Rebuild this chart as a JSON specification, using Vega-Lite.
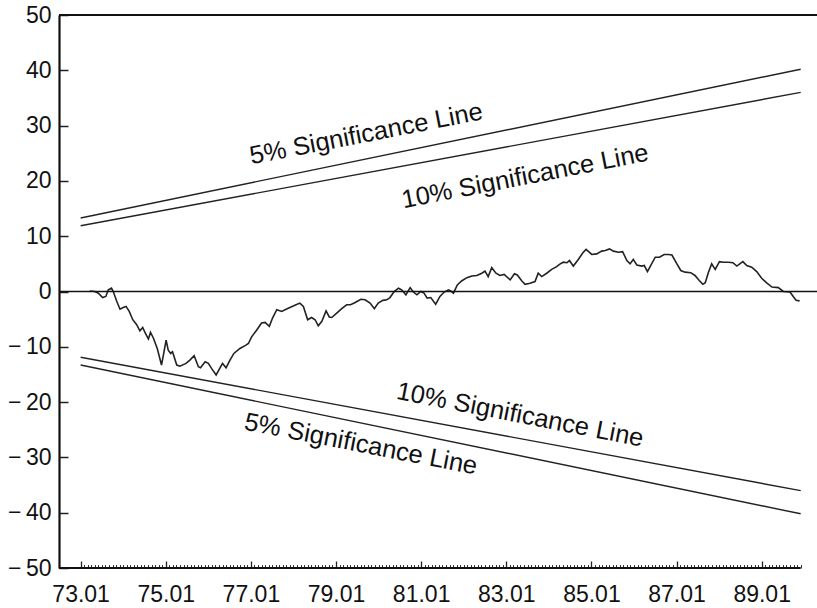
{
  "$schema": "https://vega.github.io/schema/vega-lite/v6.json",
  "width": 758,
  "height": 553,
  "autosize": {"type": "none"},
  "padding": {"left": 59, "top": 15, "right": 0, "bottom": 40},
  "background": "white",
  "config": {
    "view": {"stroke": null},
    "font": "Liberation Sans",
    "axis": {"labelFont": "Liberation Sans", "labelFontSize": 23, "labelColor": "#111", "grid": false, "title": null}
  },
  "datasets": {
    "cusum": [
      {"t":2.6,"v":0.1},{"t":4.0,"v":0.0},{"t":5.0,"v":-0.3},{"t":6.2,"v":-1.1},{"t":7.1,"v":-0.9},{"t":7.8,"v":0.3},{"t":8.7,"v":0.6},{"t":9.2,"v":0.0},{"t":10.2,"v":-1.8},{"t":11.1,"v":-3.2},{"t":12.0,"v":-2.9},{"t":12.8,"v":-2.7},{"t":13.7,"v":-3.6},{"t":14.7,"v":-5.1},{"t":15.8,"v":-6.0},{"t":16.7,"v":-7.1},{"t":17.5,"v":-6.5},{"t":18.2,"v":-7.5},{"t":19.1,"v":-8.6},{"t":19.7,"v":-7.4},{"t":20.5,"v":-8.4},{"t":21.6,"v":-10.3},{"t":22.8,"v":-13.3},{"t":23.5,"v":-10.9},{"t":24.1,"v":-8.8},{"t":24.7,"v":-10.6},{"t":25.4,"v":-11.2},{"t":25.9,"v":-10.9},{"t":27.1,"v":-13.3},{"t":28.0,"v":-13.5},{"t":29.7,"v":-13.0},{"t":30.8,"v":-12.4},{"t":32.0,"v":-11.6},{"t":33.2,"v":-13.6},{"t":33.8,"v":-13.8},{"t":35.1,"v":-12.7},{"t":36.0,"v":-13.0},{"t":36.9,"v":-13.9},{"t":38.2,"v":-15.1},{"t":39.3,"v":-13.8},{"t":40.0,"v":-13.0},{"t":41.0,"v":-13.8},{"t":42.1,"v":-12.4},{"t":43.2,"v":-11.2},{"t":44.9,"v":-10.3},{"t":46.6,"v":-9.7},{"t":47.3,"v":-9.4},{"t":48.2,"v":-8.2},{"t":49.6,"v":-7.0},{"t":51.0,"v":-5.7},{"t":52.0,"v":-5.6},{"t":53.2,"v":-6.3},{"t":54.1,"v":-4.8},{"t":55.3,"v":-3.3},{"t":56.7,"v":-3.6},{"t":57.9,"v":-3.2},{"t":59.0,"v":-2.9},{"t":60.4,"v":-2.5},{"t":61.8,"v":-2.1},{"t":62.8,"v":-2.7},{"t":64.0,"v":-5.1},{"t":65.1,"v":-4.7},{"t":66.1,"v":-5.1},{"t":67.0,"v":-6.2},{"t":68.0,"v":-5.4},{"t":69.2,"v":-3.5},{"t":70.1,"v":-4.6},{"t":70.8,"v":-4.7},{"t":72.2,"v":-3.9},{"t":73.6,"v":-3.1},{"t":75.0,"v":-2.4},{"t":76.1,"v":-2.4},{"t":77.4,"v":-2.0},{"t":79.0,"v":-1.4},{"t":80.2,"v":-1.5},{"t":81.6,"v":-2.1},{"t":82.8,"v":-3.1},{"t":83.9,"v":-2.1},{"t":85.2,"v":-1.6},{"t":86.3,"v":-1.5},{"t":87.2,"v":-1.1},{"t":88.4,"v":0.0},{"t":89.6,"v":0.6},{"t":90.5,"v":0.3},{"t":91.7,"v":-0.6},{"t":92.9,"v":0.7},{"t":93.8,"v":-0.1},{"t":94.8,"v":-0.6},{"t":95.9,"v":0.0},{"t":96.8,"v":-0.3},{"t":97.7,"v":-1.2},{"t":98.7,"v":-1.1},{"t":100.1,"v":-2.3},{"t":101.3,"v":-0.9},{"t":102.5,"v":-0.1},{"t":103.7,"v":0.3},{"t":104.3,"v":0.1},{"t":105.1,"v":-0.3},{"t":106.2,"v":1.2},{"t":107.4,"v":1.9},{"t":108.9,"v":2.5},{"t":110.3,"v":2.8},{"t":111.7,"v":2.9},{"t":113.1,"v":3.3},{"t":114.0,"v":3.7},{"t":114.9,"v":2.7},{"t":115.9,"v":4.3},{"t":117.1,"v":3.3},{"t":118.2,"v":2.9},{"t":119.4,"v":3.1},{"t":121.1,"v":2.1},{"t":122.3,"v":3.2},{"t":123.1,"v":3.0},{"t":124.4,"v":1.9},{"t":125.3,"v":1.3},{"t":126.7,"v":1.5},{"t":128.1,"v":1.8},{"t":129.0,"v":3.3},{"t":130.0,"v":2.7},{"t":131.4,"v":3.3},{"t":132.8,"v":4.0},{"t":134.2,"v":4.5},{"t":135.2,"v":5.0},{"t":136.1,"v":5.3},{"t":137.1,"v":5.2},{"t":137.8,"v":5.6},{"t":138.9,"v":4.6},{"t":140.3,"v":5.8},{"t":141.6,"v":7.0},{"t":142.5,"v":7.6},{"t":144.1,"v":6.7},{"t":145.5,"v":6.8},{"t":146.9,"v":7.3},{"t":147.9,"v":7.4},{"t":149.1,"v":7.7},{"t":150.2,"v":7.3},{"t":151.6,"v":7.1},{"t":152.8,"v":7.2},{"t":154.0,"v":5.6},{"t":154.9,"v":5.0},{"t":155.8,"v":5.8},{"t":156.8,"v":4.8},{"t":158.2,"v":4.6},{"t":158.9,"v":4.7},{"t":159.8,"v":3.6},{"t":160.7,"v":4.7},{"t":162.0,"v":6.2},{"t":163.2,"v":6.2},{"t":164.5,"v":6.7},{"t":165.7,"v":6.7},{"t":166.7,"v":6.6},{"t":168.1,"v":5.0},{"t":169.2,"v":3.8},{"t":170.4,"v":3.5},{"t":172.0,"v":3.4},{"t":173.2,"v":2.9},{"t":174.4,"v":2.0},{"t":175.4,"v":1.3},{"t":176.1,"v":1.6},{"t":177.0,"v":3.5},{"t":177.9,"v":5.0},{"t":178.9,"v":4.0},{"t":180.1,"v":5.4},{"t":181.2,"v":5.3},{"t":182.6,"v":5.3},{"t":183.9,"v":5.2},{"t":185.0,"v":4.6},{"t":186.7,"v":5.4},{"t":187.8,"v":4.7},{"t":189.2,"v":4.4},{"t":190.6,"v":3.6},{"t":192.0,"v":2.4},{"t":193.5,"v":1.5},{"t":194.9,"v":0.8},{"t":196.7,"v":0.7},{"t":198.1,"v":0.0},{"t":200.0,"v":-0.1},{"t":201.0,"v":-1.0},{"t":201.7,"v":-1.6},{"t":202.7,"v":-1.7}
    ],
    "bands": [
      {"s":"u5","t":0,"v":13.3},{"s":"u5","t":203,"v":40.2},
      {"s":"u10","t":0,"v":11.9},{"s":"u10","t":203,"v":36.0},
      {"s":"l10","t":0,"v":-11.9},{"s":"l10","t":203,"v":-36.0},
      {"s":"l5","t":0,"v":-13.3},{"s":"l5","t":203,"v":-40.2}
    ],
    "upperLabels": [
      {"t":80.5,"v":28.5,"label":"5% Significance Line"},
      {"t":125.3,"v":20.8,"label":"10% Significance Line"}
    ],
    "lowerLabels": [
      {"t":123.9,"v":-22.3,"label":"10% Significance Line"},
      {"t":79.0,"v":-27.6,"label":"5% Significance Line"}
    ]
  },
  "layer": [
    {
      "data": {"name": "bands"},
      "mark": {"type": "line", "color": "#222", "strokeWidth": 1.4},
      "encoding": {
        "x": {"field": "t", "type": "quantitative", "scale": {"domain": [-6.1, 207.6], "nice": false, "zero": false},
          "axis": {"orient": "bottom", "domain": false, "labels": false, "tickSize": -3.5, "tickWidth": 1, "tickColor": "#333",
            "values": [0,1,2,3,4,5,6,7,8,9,10,11,12,13,14,15,16,17,18,19,20,21,22,23,24,25,26,27,28,29,30,31,32,33,34,35,36,37,38,39,40,41,42,43,44,45,46,47,48,49,50,51,52,53,54,55,56,57,58,59,60,61,62,63,64,65,66,67,68,69,70,71,72,73,74,75,76,77,78,79,80,81,82,83,84,85,86,87,88,89,90,91,92,93,94,95,96,97,98,99,100,101,102,103,104,105,106,107,108,109,110,111,112,113,114,115,116,117,118,119,120,121,122,123,124,125,126,127,128,129,130,131,132,133,134,135,136,137,138,139,140,141,142,143,144,145,146,147,148,149,150,151,152,153,154,155,156,157,158,159,160,161,162,163,164,165,166,167,168,169,170,171,172,173,174,175,176,177,178,179,180,181,182,183,184,185,186,187,188,189,190,191,192,193,194,195,196,197,198,199,200,201,202,203]}},
        "y": {"field": "v", "type": "quantitative", "scale": {"domain": [-50, 50], "nice": false, "zero": false},
          "axis": {"orient": "left", "values": [-50,-40,-30,-20,-10,0,10,20,30,40,50], "tickSize": -9, "tickWidth": 1.5, "tickColor": "#222",
            "domain": true, "domainWidth": 2.2, "domainColor": "#111", "labelPadding": 17,
            "labelExpr": "datum.value < 0 ? '\u2212\u2009' + abs(datum.value) : datum.value + ''"}},
        "detail": {"field": "s"}
      }
    },
    {
      "data": {"name": "cusum"},
      "mark": {"type": "line", "color": "#222", "strokeWidth": 1.6},
      "encoding": {
        "x": {"field": "t", "type": "quantitative",
          "axis": {"orient": "bottom", "domain": false, "values": [0,24,48,72,96,120,144,168,192], "tickSize": -7, "tickWidth": 1.3, "tickColor": "#222",
            "labelPadding": 22, "labelExpr": "(73 + datum.value/12) + '.01'"}},
        "y": {"field": "v", "type": "quantitative", "axis": null}
      }
    },
    {
      "data": {"values": [{}]},
      "mark": {"type": "rule", "color": "#111", "strokeWidth": 1.6},
      "encoding": {"y": {"datum": 0, "type": "quantitative", "axis": null}}
    },
    {
      "data": {"values": [{}]},
      "mark": {"type": "rule", "color": "#111", "strokeWidth": 2.2},
      "encoding": {"y": {"datum": 50, "type": "quantitative", "axis": null}}
    },
    {
      "data": {"values": [{}]},
      "mark": {"type": "rule", "color": "#111", "strokeWidth": 2.2},
      "encoding": {
        "x": {"datum": -6.1, "type": "quantitative", "axis": null},
        "x2": {"datum": 203},
        "y": {"datum": -50, "type": "quantitative", "axis": null}
      }
    },
    {
      "data": {"name": "upperLabels"},
      "mark": {"type": "text", "font": "Liberation Sans", "fontSize": 25.5, "color": "#111", "angle": -11, "align": "center", "baseline": "middle"},
      "encoding": {
        "x": {"field": "t", "type": "quantitative", "axis": null},
        "y": {"field": "v", "type": "quantitative", "axis": null},
        "text": {"field": "label"}
      }
    },
    {
      "data": {"name": "lowerLabels"},
      "mark": {"type": "text", "font": "Liberation Sans", "fontSize": 25.5, "color": "#111", "angle": 11, "align": "center", "baseline": "middle"},
      "encoding": {
        "x": {"field": "t", "type": "quantitative", "axis": null},
        "y": {"field": "v", "type": "quantitative", "axis": null},
        "text": {"field": "label"}
      }
    }
  ],
  "resolve": {"axis": {"x": "independent", "y": "independent"}}
}
